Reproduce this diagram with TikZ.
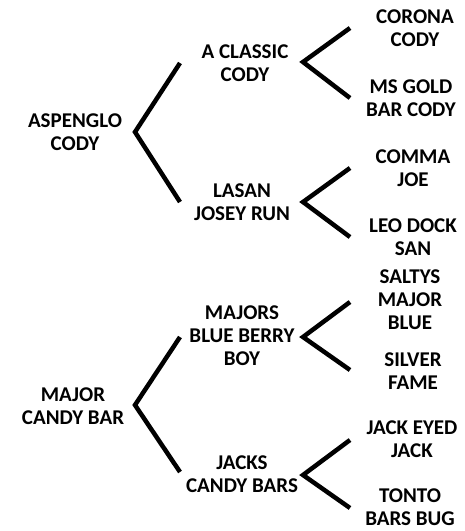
\documentclass[tikz,border=0pt]{standalone}
\usepackage{fontspec}
\setmainfont{Carlito}
\usepackage{tikz}
\usetikzlibrary{positioning}

\begin{document}
\begin{tikzpicture}[x=1pt, y=-1pt,
			horse/.style={align=center, inner sep=0pt, font=\fontsize{21}{23}\selectfont\bfseries},
			fork/.style={draw=black, line width=4.5pt, line join=miter}
			]
			\useasboundingbox (0,0) rectangle (464,531);
			
			% first sire line
			\node[horse] (asp) at (75,132) {ASPENGLO \\ CODY};
			\node[horse] (cls) at (245,63) {A CLASSIC \\ CODY};
			\node[horse] (cor) at (415,28) {CORONA \\ CODY};
			\node[horse] (msg) at (411,98) {MS GOLD \\ BAR CODY};
			\node[horse] (las) at (242,202) {LASAN \\ JOSEY RUN};
			\node[horse] (com) at (413,168) {COMMA \\ JOE};
			\node[horse] (leo) at (413,237) {LEO DOCK \\ SAN};
			
			% second sire line
			\node[horse] (maj) at (73,406) {MAJOR \\ CANDY BAR};
			\node[horse] (mbb) at (242,336) {MAJORS \\ BLUE BERRY \\ BOY};
			\node[horse] (sal) at (410,300) {SALTYS \\ MAJOR \\ BLUE};
			\node[horse] (sil) at (413,371) {SILVER \\ FAME};
			\node[horse] (jck) at (242,474) {JACKS \\ CANDY BARS};
			\node[horse] (jej) at (412,439) {JACK EYED \\ JACK};
			\node[horse] (ton) at (410,507) {TONTO \\ BARS BUG};
			
			% fork points
			\coordinate (asp-v) at (135,132);
			\coordinate (asp-a) at (180,63);
			\coordinate (asp-b) at (180,202);
			\coordinate (cls-v) at (303,62);
			\coordinate (cls-a) at (350,28);
			\coordinate (cls-b) at (350,98);
			\coordinate (las-v) at (303,202);
			\coordinate (las-a) at (350,168);
			\coordinate (las-b) at (350,237);
			\coordinate (maj-v) at (135,405);
			\coordinate (maj-a) at (180,337);
			\coordinate (maj-b) at (180,472);
			\coordinate (mbb-v) at (303,337);
			\coordinate (mbb-a) at (350,302);
			\coordinate (mbb-b) at (350,370);
			\coordinate (jck-v) at (303,475);
			\coordinate (jck-a) at (350,440);
			\coordinate (jck-b) at (350,508);
			
			\draw[fork] (asp-a) -- (asp-v) -- (asp-b);
			\draw[fork] (cls-a) -- (cls-v) -- (cls-b);
			\draw[fork] (las-a) -- (las-v) -- (las-b);
			\draw[fork] (maj-a) -- (maj-v) -- (maj-b);
			\draw[fork] (mbb-a) -- (mbb-v) -- (mbb-b);
			\draw[fork] (jck-a) -- (jck-v) -- (jck-b);
		\end{tikzpicture}
\end{document}
